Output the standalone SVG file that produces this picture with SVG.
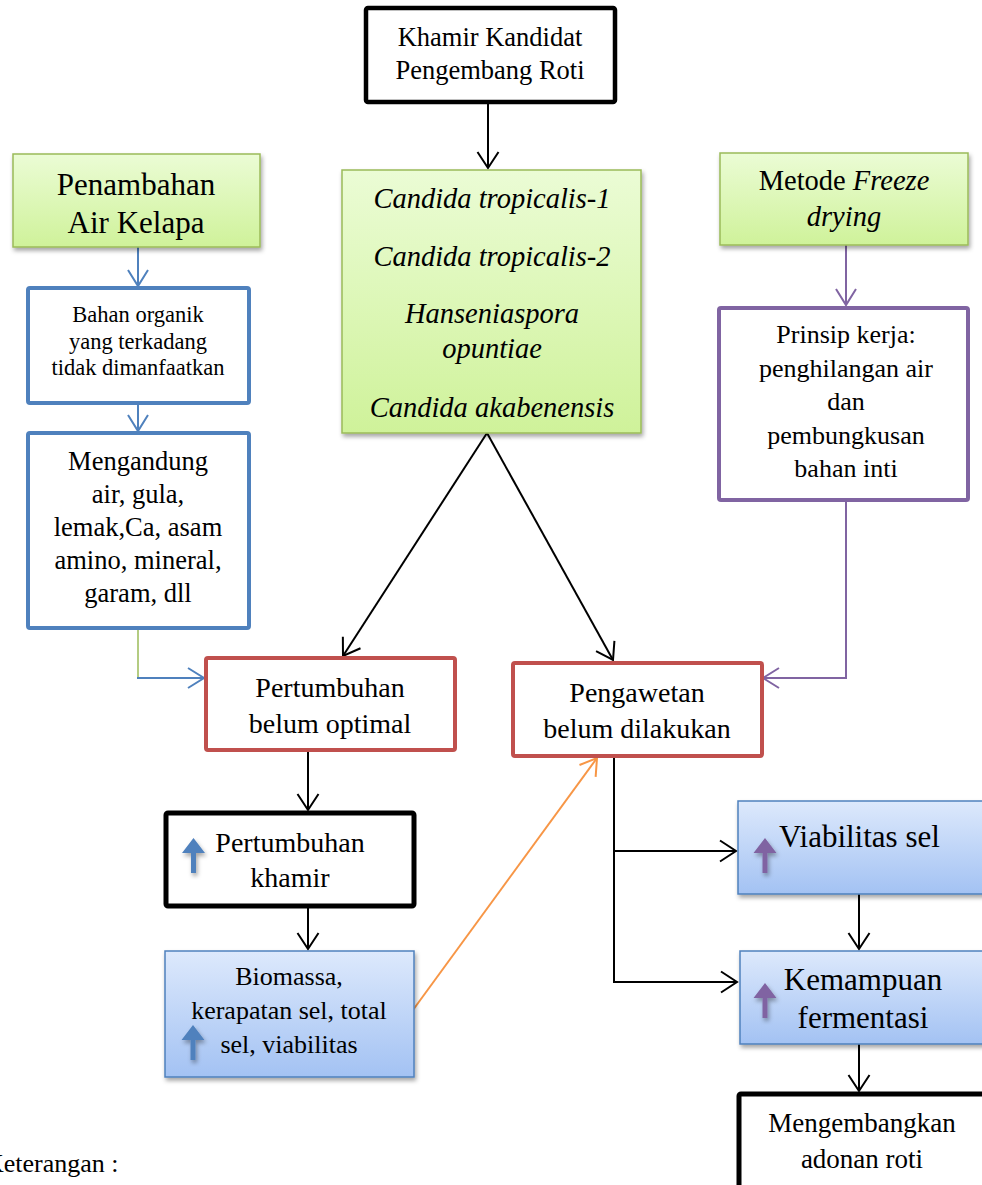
<svg xmlns="http://www.w3.org/2000/svg" width="982" height="1185" viewBox="0 0 982 1185">
<style>
.t{font-family:"Liberation Serif","Times New Roman",serif;fill:#000;text-anchor:middle}
.i{font-style:italic}
.green{fill:url(#gG);stroke:#9bbb59;stroke-width:1.5}
.blue{fill:url(#gB);stroke:#4f81bd;stroke-width:1.5}
.bb{fill:#fff;stroke:#4f81bd;stroke-width:4}
.rb{fill:#fff;stroke:#c0504d;stroke-width:4}
.pb{fill:#fff;stroke:#8064a2;stroke-width:4}
.kb{fill:#fff;stroke:#000;stroke-width:5}
.ck{fill:none;stroke:#000;stroke-width:2}
.cb{fill:none;stroke:#4f81bd;stroke-width:2}
.cg{fill:none;stroke:#9bbb59;stroke-width:1.5}
.cp{fill:none;stroke:#8064a2;stroke-width:2}
.co{fill:none;stroke:#f79646;stroke-width:2}
</style>
<defs>
<linearGradient id="gG" x1="0" y1="0" x2="0" y2="1"><stop offset="0" stop-color="#ebfcd5"/><stop offset="1" stop-color="#cff29a"/></linearGradient>
<linearGradient id="gB" x1="0" y1="0" x2="0" y2="1"><stop offset="0" stop-color="#dde9fc"/><stop offset="1" stop-color="#a3c2f3"/></linearGradient>
<filter id="sh" x="-10%" y="-10%" width="130%" height="130%"><feDropShadow dx="1.5" dy="3" stdDeviation="2" flood-color="#000" flood-opacity="0.35"/></filter>
<marker id="mk" markerUnits="userSpaceOnUse" viewBox="-18 -12 20 24" refX="0" refY="0" markerWidth="20" markerHeight="24" orient="auto"><path d="M-16,-10.5 L0,0 L-16,10.5" fill="none" stroke="#000" stroke-width="2"/></marker>
<marker id="mb" markerUnits="userSpaceOnUse" viewBox="-18 -12 20 24" refX="0" refY="0" markerWidth="20" markerHeight="24" orient="auto"><path d="M-16,-10 L0,0 L-16,10" fill="none" stroke="#4f81bd" stroke-width="2"/></marker>
<marker id="mp" markerUnits="userSpaceOnUse" viewBox="-18 -12 20 24" refX="0" refY="0" markerWidth="20" markerHeight="24" orient="auto"><path d="M-16,-10 L0,0 L-16,10" fill="none" stroke="#8064a2" stroke-width="2"/></marker>
<marker id="mo" markerUnits="userSpaceOnUse" viewBox="-18 -12 20 24" refX="0" refY="0" markerWidth="20" markerHeight="24" orient="auto"><path d="M-16,-10 L0,0 L-16,10" fill="none" stroke="#f79646" stroke-width="2"/></marker>
<path id="up" d="M0,0 L11.5,15 L2.5,15 L2.5,35 L-2.5,35 L-2.5,15 L-11.5,15 Z"/>
</defs>

<g id="connectors">
<line class="ck" x1="488" y1="103" x2="488" y2="168" marker-end="url(#mk)"/>
<line class="cb" x1="138" y1="247" x2="138" y2="286" marker-end="url(#mb)"/>
<line class="cb" x1="138" y1="403" x2="138" y2="431" marker-end="url(#mb)"/>
<line class="cg" x1="138" y1="628" x2="138" y2="678"/>
<line class="cb" x1="137" y1="678" x2="204" y2="678" marker-end="url(#mb)"/>
<line class="ck" x1="487" y1="433" x2="343" y2="656" marker-end="url(#mk)"/>
<line class="ck" x1="487" y1="433" x2="613" y2="660" marker-end="url(#mk)"/>
<line class="cp" x1="846" y1="245" x2="846" y2="305" marker-end="url(#mp)"/>
<polyline class="cp" points="846,500 846,678 763,678" marker-end="url(#mp)"/>
<line class="ck" x1="308" y1="750" x2="308" y2="810" marker-end="url(#mk)"/>
<line class="ck" x1="308" y1="906" x2="308" y2="949" marker-end="url(#mk)"/>
<line class="co" x1="413" y1="1010" x2="597" y2="758" marker-end="url(#mo)"/>
<line class="ck" x1="614" y1="756" x2="614" y2="983"/>
<line class="ck" x1="613" y1="851" x2="736" y2="851" marker-end="url(#mk)"/>
<line class="ck" x1="613" y1="982" x2="737" y2="982" marker-end="url(#mk)"/>
<line class="ck" x1="859" y1="894" x2="859" y2="949" marker-end="url(#mk)"/>
<line class="ck" x1="859" y1="1044" x2="859" y2="1091" marker-end="url(#mk)"/>
</g>

<g id="khamir">
<rect class="kb" x="366" y="8" width="249" height="94" rx="2" style="stroke-width:4.5"/>
<text class="t" font-size="26.5" x="490" y="46">Khamir Kandidat</text>
<text class="t" font-size="26.5" x="490" y="79">Pengembang Roti</text>
</g>

<g id="candida">
<rect class="green" x="342" y="170" width="299" height="263" filter="url(#sh)"/>
<text class="t i" font-size="28.5" x="492" y="208">Candida tropicalis-1</text>
<text class="t i" font-size="28.5" x="492" y="266">Candida tropicalis-2</text>
<text class="t i" font-size="28.5" x="492" y="323">Hanseniaspora</text>
<text class="t i" font-size="28.5" x="492" y="358">opuntiae</text>
<text class="t i" font-size="28.5" x="492" y="417">Candida akabenensis</text>
</g>

<g id="penambahan">
<rect class="green" x="13" y="154" width="247" height="93" filter="url(#sh)"/>
<text class="t" font-size="31" x="136" y="195">Penambahan</text>
<text class="t" font-size="31" x="136" y="233">Air Kelapa</text>
</g>

<g id="bahan">
<rect class="bb" x="28" y="288" width="221" height="115" rx="2"/>
<text class="t" font-size="22.5" x="138" y="322">Bahan organik</text>
<text class="t" font-size="22.5" x="138" y="349">yang terkadang</text>
<text class="t" font-size="22.5" x="138" y="375">tidak dimanfaatkan</text>
</g>

<g id="mengandung">
<rect class="bb" x="28" y="433" width="221" height="195" rx="2"/>
<text class="t" font-size="26.5" x="138" y="470">Mengandung</text>
<text class="t" font-size="26.5" x="138" y="503">air, gula,</text>
<text class="t" font-size="26.5" x="138" y="536">lemak,Ca, asam</text>
<text class="t" font-size="26.5" x="138" y="569">amino, mineral,</text>
<text class="t" font-size="26.5" x="138" y="602">garam, dll</text>
</g>

<g id="metode">
<rect class="green" x="720" y="153" width="248" height="92" filter="url(#sh)"/>
<text class="t" font-size="28.5" x="844" y="190">Metode <tspan class="i">Freeze</tspan></text>
<text class="t i" font-size="28.5" x="844" y="226">drying</text>
</g>

<g id="prinsip">
<rect class="pb" x="719" y="308" width="249" height="192" rx="2"/>
<text class="t" font-size="26" x="846" y="343">Prinsip kerja:</text>
<text class="t" font-size="26" x="846" y="377">penghilangan air</text>
<text class="t" font-size="26" x="846" y="410">dan</text>
<text class="t" font-size="26" x="846" y="444">pembungkusan</text>
<text class="t" font-size="26" x="846" y="477">bahan inti</text>
</g>

<g id="pertumbuhan-belum">
<rect class="rb" x="206" y="658" width="249" height="92" rx="2"/>
<text class="t" font-size="28" x="330" y="697">Pertumbuhan</text>
<text class="t" font-size="28" x="330" y="733">belum optimal</text>
</g>

<g id="pengawetan">
<rect class="rb" x="513" y="663" width="249" height="93" rx="2"/>
<text class="t" font-size="28" x="637" y="702">Pengawetan</text>
<text class="t" font-size="28" x="637" y="738">belum dilakukan</text>
</g>

<g id="pertumbuhan-khamir">
<rect class="kb" x="166" y="813" width="248" height="93" rx="2"/>
<use href="#up" x="193.5" y="838" fill="#4f81bd" filter="url(#sh)"/>
<text class="t" font-size="28" x="290" y="852">Pertumbuhan</text>
<text class="t" font-size="28" x="290" y="887">khamir</text>
</g>

<g id="biomassa">
<rect class="blue" x="165" y="951" width="249" height="126" filter="url(#sh)"/>
<use href="#up" x="193" y="1025" fill="#4f81bd" filter="url(#sh)"/>
<text class="t" font-size="26" x="289" y="985">Biomassa,</text>
<text class="t" font-size="26" x="289" y="1019">kerapatan sel, total</text>
<text class="t" font-size="26" x="289" y="1053">sel, viabilitas</text>
</g>

<g id="viabilitas">
<rect class="blue" x="738" y="801" width="260" height="93" filter="url(#sh)"/>
<use href="#up" x="765" y="838" fill="#8064a2" filter="url(#sh)"/>
<text class="t" font-size="31" x="779" y="847" style="text-anchor:start">Viabilitas sel</text>
</g>

<g id="kemampuan">
<rect class="blue" x="740" y="951" width="260" height="93" filter="url(#sh)"/>
<use href="#up" x="765" y="983" fill="#8064a2" filter="url(#sh)"/>
<text class="t" font-size="31" x="863" y="990">Kemampuan</text>
<text class="t" font-size="31" x="863" y="1028">fermentasi</text>
</g>

<g id="mengembangkan">
<rect class="kb" x="739" y="1094" width="260" height="100" rx="2"/>
<text class="t" font-size="27" x="862" y="1132">Mengembangkan</text>
<text class="t" font-size="27" x="862" y="1168">adonan roti</text>
</g>

<text class="t" font-size="26" x="-15" y="1172" style="text-anchor:start">Keterangan :</text>
</svg>
